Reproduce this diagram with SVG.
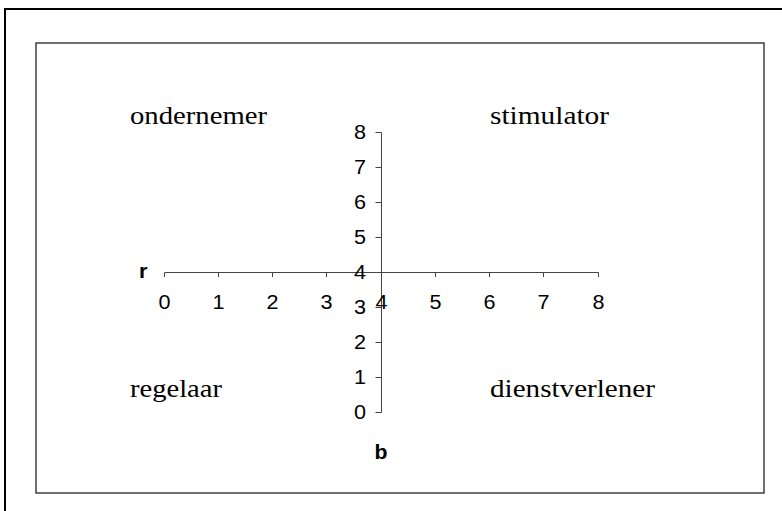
<svg xmlns="http://www.w3.org/2000/svg" width="782" height="511" viewBox="0 0 782 511">
<style>
.frame{fill:#fff;stroke:#000;stroke-width:2}
.plot{fill:none;stroke:#222;stroke-width:1.3}
.ax{stroke:#444;stroke-width:1;fill:none}
.q{font-family:"Liberation Serif","Times New Roman",serif;font-size:26px;fill:#000}
.n{font-family:"Liberation Sans",Arial,sans-serif;font-size:20px;fill:#000}
.b{font-family:"Liberation Sans",Arial,sans-serif;font-size:20px;font-weight:bold;fill:#000}
</style>
<rect width="782" height="511" fill="#fff"/>
<rect class="frame" x="5" y="9" width="800" height="600"/>
<rect class="plot" x="36" y="43" width="728" height="450"/>
<g id="connectors">
<path class="ax" d="M381.5 132.5V412.5M375.5 132.5H381.5M375.5 167.5H381.5M375.5 202.5H381.5M375.5 237.5H381.5M375.5 272.5H381.5M375.5 307.5H381.5M375.5 342.5H381.5M375.5 377.5H381.5M375.5 412.5H381.5"/>
<path class="ax" d="M164.5 272.5H598.5M164.5 272.5V277M218.5 272.5V277M272.5 272.5V277M326.5 272.5V277M381.5 272.5V277M435.5 272.5V277M489.5 272.5V277M543.5 272.5V277M598.5 272.5V277"/>
</g>
<g id="y-labels" class="n" text-anchor="end">
<text x="366" y="139" textLength="12" lengthAdjust="spacingAndGlyphs">8</text>
<text x="366" y="174" textLength="12" lengthAdjust="spacingAndGlyphs">7</text>
<text x="366" y="209" textLength="12" lengthAdjust="spacingAndGlyphs">6</text>
<text x="366" y="244" textLength="12" lengthAdjust="spacingAndGlyphs">5</text>
<text x="366" y="279" textLength="12" lengthAdjust="spacingAndGlyphs">4</text>
<text x="366" y="314" textLength="12" lengthAdjust="spacingAndGlyphs">3</text>
<text x="366" y="349" textLength="12" lengthAdjust="spacingAndGlyphs">2</text>
<text x="366" y="384" textLength="12" lengthAdjust="spacingAndGlyphs">1</text>
<text x="366" y="419" textLength="12" lengthAdjust="spacingAndGlyphs">0</text>
</g>
<g id="x-labels" class="n" text-anchor="middle">
<text x="164.5" y="309" textLength="12" lengthAdjust="spacingAndGlyphs">0</text>
<text x="218.5" y="309" textLength="12" lengthAdjust="spacingAndGlyphs">1</text>
<text x="272.5" y="309" textLength="12" lengthAdjust="spacingAndGlyphs">2</text>
<text x="326.5" y="309" textLength="12" lengthAdjust="spacingAndGlyphs">3</text>
<text x="381.5" y="309" textLength="12" lengthAdjust="spacingAndGlyphs">4</text>
<text x="435.5" y="309" textLength="12" lengthAdjust="spacingAndGlyphs">5</text>
<text x="489.5" y="309" textLength="12" lengthAdjust="spacingAndGlyphs">6</text>
<text x="543.5" y="309" textLength="12" lengthAdjust="spacingAndGlyphs">7</text>
<text x="598.5" y="309" textLength="12" lengthAdjust="spacingAndGlyphs">8</text>
</g>
<g id="axis-r"><text class="b" x="139" y="278" textLength="8.5" lengthAdjust="spacingAndGlyphs">r</text></g>
<g id="axis-b"><text class="b" x="381" y="459" text-anchor="middle" textLength="13" lengthAdjust="spacingAndGlyphs">b</text></g>
<g id="ondernemer"><text class="q" x="130" y="124" textLength="137" lengthAdjust="spacingAndGlyphs">ondernemer</text></g>
<g id="stimulator"><text class="q" x="490" y="124" textLength="119" lengthAdjust="spacingAndGlyphs">stimulator</text></g>
<g id="regelaar"><text class="q" x="130" y="397" textLength="92" lengthAdjust="spacingAndGlyphs">regelaar</text></g>
<g id="dienstverlener"><text class="q" x="490" y="397" textLength="165" lengthAdjust="spacingAndGlyphs">dienstverlener</text></g>
</svg>
